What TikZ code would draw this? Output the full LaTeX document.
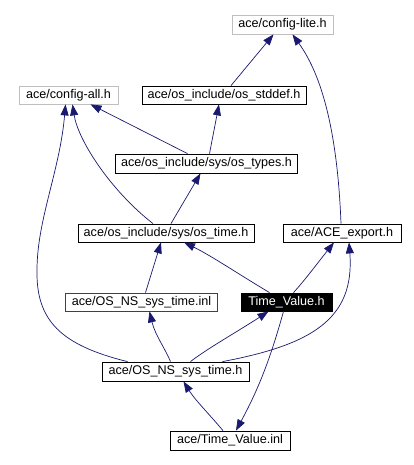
\documentclass[tikz,border=0pt]{standalone}
\usepackage{fontspec}
\setmainfont{Liberation Sans}
\usetikzlibrary{arrows.meta}
\definecolor{edgeblue}{RGB}{25,25,112}
\definecolor{boxgray}{RGB}{191,191,191}
\tikzset{
  filebox/.style={draw=black,line width=0.8pt,fill=white,inner sep=0pt,anchor=center,
    font=\fontsize{12.6}{14}\selectfont},
  graybox/.style={filebox,draw=boxgray},
  redbox/.style={filebox,draw=red!85!black},
  mainbox/.style={filebox,fill=black,text=white},
  dep/.style={draw=edgeblue,line width=0.7pt,-{Triangle[length=11pt,width=8pt]},fill=none},
}
\begin{document}
\begin{tikzpicture}[x=1pt,y=-1pt]
\useasboundingbox (0,0) rectangle (414,465);
\fill[white] (0,0) rectangle (414,465);
\node[graybox,minimum width=101pt,minimum height=19pt] (lite) at (282.5,24.5) {ace/config-lite.h};
\node[graybox,minimum width=99pt,minimum height=18pt] (all) at (68.5,95) {ace/config-all.h};
\node[filebox,minimum width=164pt,minimum height=18pt] (stddef) at (224,95) {ace/os\_include/os\_stddef.h};
\node[filebox,minimum width=182pt,minimum height=19pt] (types) at (206.5,163.5) {ace/os\_include/sys/os\_types.h};
\node[filebox,minimum width=176pt,minimum height=18pt] (ostime) at (166,233) {ace/os\_include/sys/os\_time.h};
\node[filebox,minimum width=118pt,minimum height=18pt] (export) at (342,233) {ace/ACE\_export.h};
\node[redbox,minimum width=152pt,minimum height=18pt] (inl) at (141.5,302) {ace/OS\_NS\_sys\_time.inl};
\node[mainbox,minimum width=91pt,minimum height=18pt] (tv) at (286.5,302) {Time\_Value.h};
\node[filebox,minimum width=147pt,minimum height=19pt] (nssys) at (175.5,371.5) {ace/OS\_NS\_sys\_time.h};
\node[filebox,minimum width=120pt,minimum height=19pt] (tvinl) at (230,440.5) {ace/Time\_Value.inl};

\draw[dep] ([xshift=7pt]stddef.north) -- ([xshift=-9pt]lite.south);
\draw[dep] ([xshift=-1pt]export.north) .. controls (337,120) and (318,70) .. ([xshift=10pt]lite.south);
\draw[dep] ([xshift=-19pt]types.north) -- ([xshift=22pt]all.south);
\draw[dep] ([xshift=3pt]types.north) -- ([xshift=-5pt]stddef.south);
\draw[dep] ([xshift=-13pt]ostime.north) .. controls (110,190) and (78,140) .. ([xshift=4pt]all.south);
\coordinate (leftbend) at (37,270);
\draw[dep] ([xshift=-48pt]nssys.north) .. controls (60,345) and (36,320) .. (leftbend)
  .. controls (37,220) and (60,170) .. ([xshift=-3pt]all.south);
\draw[dep] ([xshift=5pt]ostime.north) -- ([xshift=-6pt]types.south);
\draw[dep] ([xshift=4pt]inl.north) -- ([xshift=-5pt]ostime.south);
\draw[dep] ([xshift=-17pt]tv.north) .. controls (240,275) and (210,255) .. ([xshift=18pt]ostime.south);
\draw[dep] ([xshift=7pt]tv.north) .. controls (305,280) and (320,260) .. ([xshift=-8pt]export.south);
\draw[dep] ([xshift=47pt]nssys.north) .. controls (310,345) and (355,320) .. ([xshift=7pt]export.south);
\draw[dep] ([xshift=-5pt]nssys.north) .. controls (166,350) and (155,335) .. ([xshift=8pt]inl.south);
\draw[dep] ([xshift=15pt]nssys.north) .. controls (205,350) and (240,330) .. ([xshift=-18pt]tv.south);
\draw[dep] ([xshift=-3pt]tv.south) .. controls (270,360) and (258,390) .. ([xshift=6pt]tvinl.north);
\draw[dep] ([xshift=-7pt]tvinl.north) .. controls (210,415) and (195,400) .. ([xshift=8pt]nssys.south);
\end{tikzpicture}
\end{document}
